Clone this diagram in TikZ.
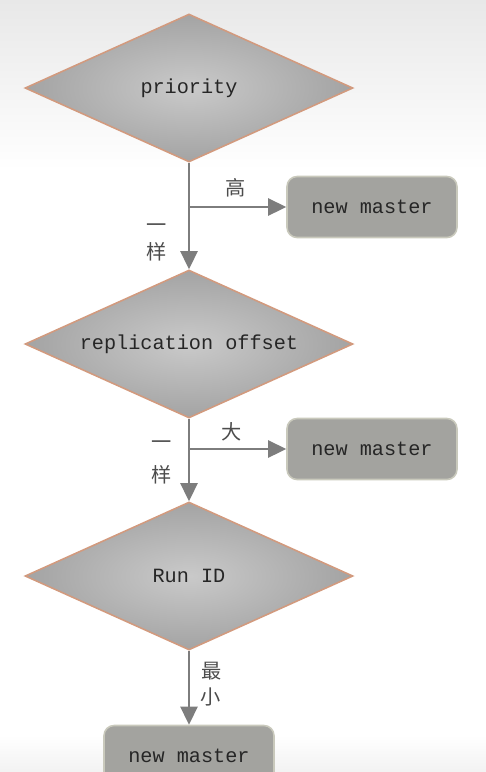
\documentclass[tikz,border=0pt]{standalone}
\usepackage{fontspec}
\setmainfont{Liberation Mono}
\newfontfamily\cjk{Noto Sans CJK SC}
\usetikzlibrary{shapes.geometric,arrows.meta}

\definecolor{rimcol}{HTML}{D29A7E}
\definecolor{boxfill}{HTML}{A3A39F}
\definecolor{boxrim}{HTML}{C9C9BC}
\definecolor{arrcol}{HTML}{7D7D7D}

\tikzset{decision/.style={diamond,draw=rimcol,line width=0.9pt,inner sep=0pt,
        minimum width=6.56cm,minimum height=2.96cm,inner color=gray!42,outer color=gray!72,
        text=black!85,font=\fontsize{11.5}{13}\selectfont},
    masterbox/.style={rectangle,rounded corners=0.2cm,draw=boxrim,line width=0.9pt,fill=boxfill,
        minimum width=3.4cm,minimum height=1.22cm,text=black!85,font=\fontsize{11.5}{13}\selectfont},
    flow/.style={draw=arrcol,line width=1.4pt,-{Triangle[length=0.36cm,width=0.34cm]}},
    cnlabel/.style={font=\cjk\fontsize{11.5}{13}\selectfont,text=black!70,inner sep=0pt}}

\begin{document}
\begin{tikzpicture}[x=0.02cm,y=-0.02cm]
        \useasboundingbox (0,0) rectangle (486,772);
        \shade[top color=gray!18,bottom color=white] (0,0) rectangle (486,170);
        \shade[top color=white,bottom color=gray!10] (0,735) rectangle (486,772);
        \node[decision] (prio) at (189,88) {\makebox[0pt]{priority}};
        \node[decision] (offset) at (189,344) {\makebox[0pt]{replication offset}};
        \node[decision] (runid) at (189,576) {\makebox[0pt]{Run ID}};
        \node[masterbox] (nm1) at (372,207) {new master};
        \node[masterbox] (nm2) at (372,449) {new master};
        \node[masterbox] (nm3) at (189,756) {new master};
        \coordinate (fork1) at (189,207);
        \coordinate (fork2) at (189,449);
        \draw[flow] (prio.south) -- (offset.north);
        \draw[flow] (fork1) -- (nm1.west);
        \draw[flow] (offset.south) -- (runid.north);
        \draw[flow] (fork2) -- (nm2.west);
        \draw[flow] (runid.south) -- (nm3.north);
        % branch labels
        \node[cnlabel] (high) at (236,188) {高};
        \node[cnlabel] (same1a) at (157,228) {一};
        \node[cnlabel] (same1b) at (157,252) {样};
        \node[cnlabel] (big) at (232,432) {大};
        \node[cnlabel] (same2a) at (162,445) {一};
        \node[cnlabel] (same2b) at (162,475) {样};
        \node[cnlabel] (leasta) at (212,671) {最};
        \node[cnlabel] (leastb) at (211,697) {小};
\end{tikzpicture}
\end{document}
